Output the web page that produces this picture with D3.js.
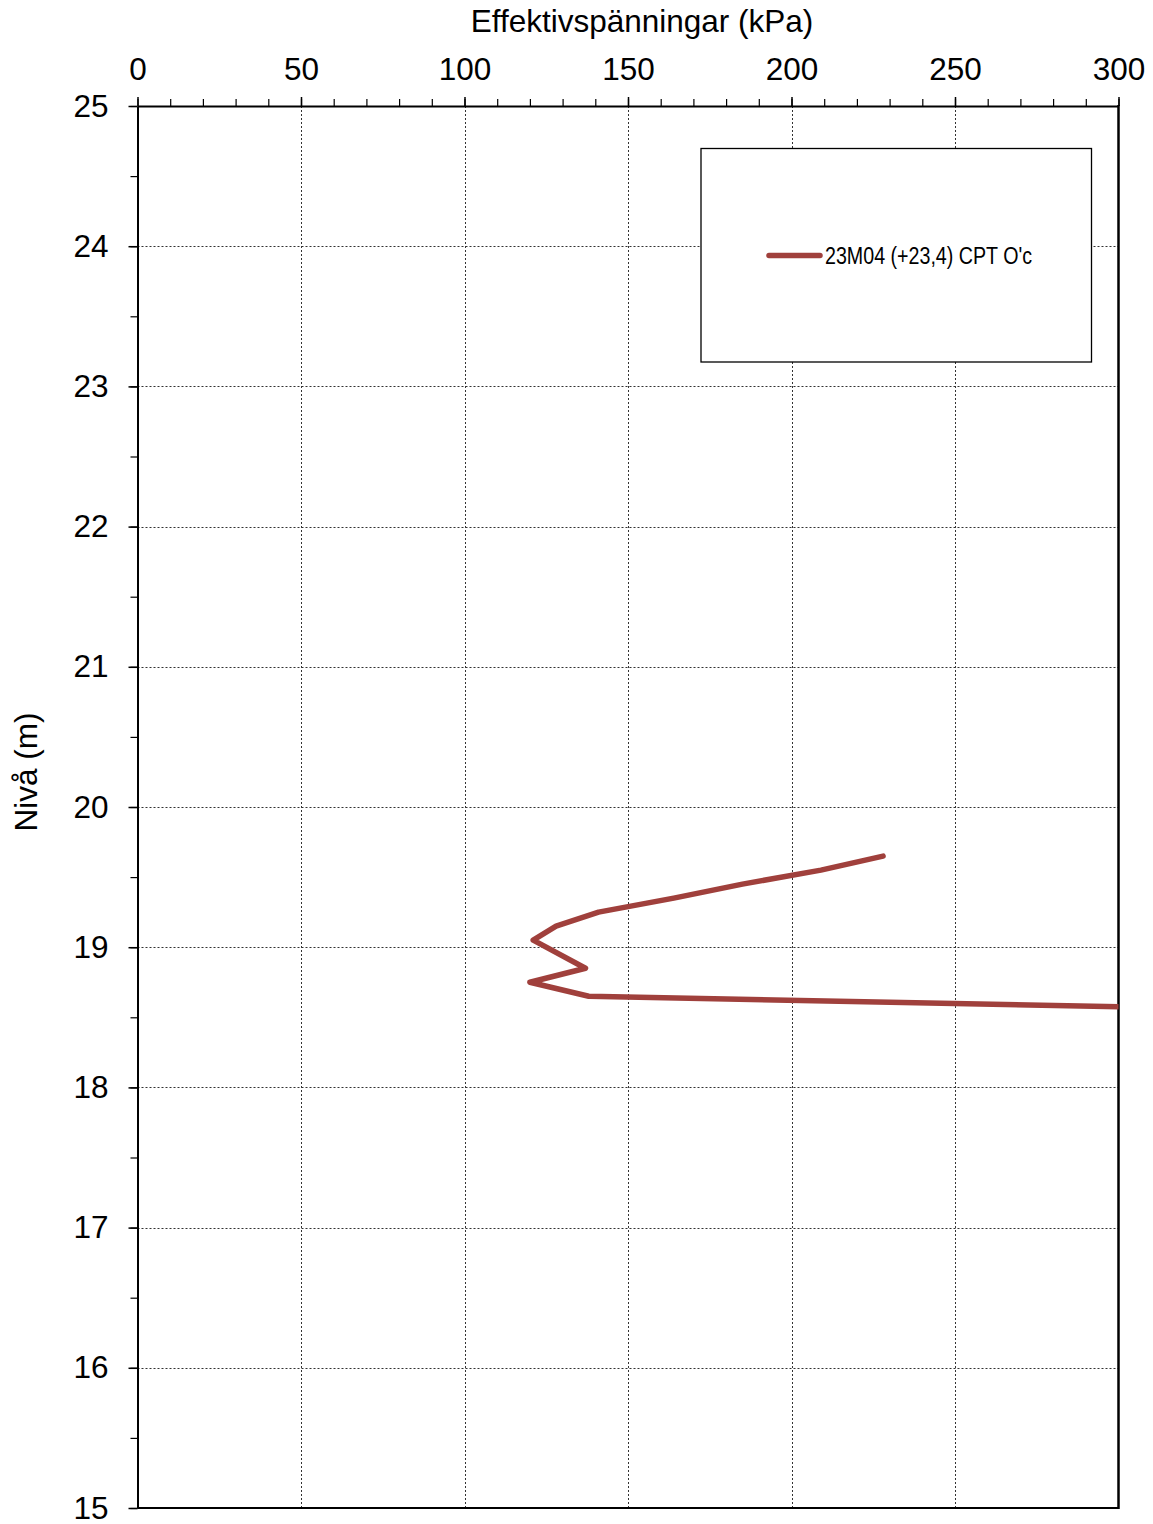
<!DOCTYPE html>
<html><head><meta charset="utf-8">
<script src="https://cdn.jsdelivr.net/npm/d3@7"></script>
<style>body{margin:0;background:#fff}svg{display:block}text{font-family:"Liberation Sans",Arial,sans-serif}</style>
</head><body>
<svg id="c" width="1153" height="1524"></svg>
<script>
const stress = [228, 209, 185, 164, 141, 128, 121, 137, 120, 138, 355];
const level  = [19.65, 19.55, 19.45, 19.35, 19.25, 19.15, 19.05, 18.85, 18.75, 18.65, 18.55];
const seriesName = "23M04 (+23,4) CPT O'c";
const xTicks = [0, 50, 100, 150, 200, 250, 300];
const yTicks = [15, 16, 17, 18, 19, 20, 21, 22, 23, 24, 25];
const xTitle = "Effektivspänningar (kPa)";
const yTitle = "Nivå (m)";

const svg = d3.select("#c");
const L = 137.5, R = 1118.5, T = 106, B = 1508;
const x = d3.scaleLinear().domain([0, 300]).range([L, R]);
const y = d3.scaleLinear().domain([15, 25]).range([B, T]);
const col = "#a0403c";
const FS = 31.5;

// grid
const g = svg.append("g");
g.selectAll(".vg").data(xTicks.filter(d => d > 0 && d < 300)).join("line")
  .attr("x1", d => Math.round(x(d)) + 0.5).attr("x2", d => Math.round(x(d)) + 0.5)
  .attr("y1", T).attr("y2", B).attr("stroke", "#333").attr("stroke-width", 1).attr("stroke-dasharray", "2,2");
g.selectAll(".hg").data(yTicks.filter(d => d > 15 && d < 25)).join("line")
  .attr("x1", L).attr("x2", R)
  .attr("y1", d => Math.round(y(d)) + 0.5).attr("y2", d => Math.round(y(d)) + 0.5)
  .attr("stroke", "#333").attr("stroke-width", 1).attr("stroke-dasharray", "2,2");

// minor ticks
const xMinor = d3.range(0, 301, 10);
svg.append("g").attr("transform", `translate(0,${T})`)
  .call(d3.axisTop(x).tickValues(xMinor).tickSize(7).tickFormat(""))
  .call(a => a.select(".domain").remove())
  .call(a => a.selectAll("line").attr("stroke", "#000").attr("stroke-width", 1.2));
const yMinor = d3.range(15, 25.01, 0.5);
svg.append("g").attr("transform", `translate(${L},0)`)
  .call(d3.axisLeft(y).tickValues(yMinor).tickSize(7).tickFormat(""))
  .call(a => a.select(".domain").remove())
  .call(a => a.selectAll("line").attr("stroke", "#000").attr("stroke-width", 1.2));

// major axes
svg.append("g").attr("transform", `translate(0,${T})`)
  .call(d3.axisTop(x).tickValues(xTicks).tickSize(9).tickSizeOuter(0).tickPadding(17).tickFormat(d3.format("d")))
  .call(a => a.select(".domain").attr("stroke-width", 2))
  .call(a => a.selectAll("line").attr("stroke-width", 1.5))
  .call(a => a.selectAll("text").attr("font-size", FS).attr("fill", "#000").style("font-family", '"Liberation Sans",Arial,sans-serif'));
svg.append("g").attr("transform", `translate(${L},0)`)
  .call(d3.axisLeft(y).tickValues(yTicks).tickSize(9).tickSizeOuter(0).tickPadding(20).tickFormat(d3.format("d")))
  .call(a => a.select(".domain").attr("stroke-width", 2))
  .call(a => a.selectAll("line").attr("stroke-width", 1.5))
  .call(a => a.selectAll("text").attr("font-size", FS).attr("fill", "#000").style("font-family", '"Liberation Sans",Arial,sans-serif'));
// right & bottom frame
svg.append("line").attr("x1", R).attr("x2", R).attr("y1", T - 1).attr("y2", B + 1).attr("stroke", "#000").attr("stroke-width", 2.5);
svg.append("line").attr("x1", L).attr("x2", R).attr("y1", B).attr("y2", B).attr("stroke", "#000").attr("stroke-width", 2);

// titles
svg.append("text").attr("x", 642).attr("y", 32).attr("text-anchor", "middle").attr("font-size", FS).text(xTitle);
svg.append("text").attr("transform", `translate(37,772) rotate(-90)`).attr("text-anchor", "middle").attr("font-size", FS).text(yTitle);

// clip + line
svg.append("clipPath").attr("id", "clip").append("rect").attr("x", L).attr("y", T).attr("width", R - L).attr("height", B - T);
const pts = stress.map((s, i) => [s, level[i]]);
svg.append("path").attr("clip-path", "url(#clip)").datum(pts)
  .attr("d", d3.line().x(d => x(d[0])).y(d => y(d[1])))
  .attr("fill", "none").attr("stroke", col).attr("stroke-width", 5.5).attr("stroke-linejoin", "round").attr("stroke-linecap", "round");

// legend
const lg = svg.append("g");
lg.append("rect").attr("x", 701).attr("y", 148.5).attr("width", 390.5).attr("height", 213.5).attr("fill", "#fff").attr("stroke", "#000").attr("stroke-width", 1.3);
lg.append("line").attr("x1", 769).attr("x2", 820).attr("y1", 255.5).attr("y2", 255.5).attr("stroke", col).attr("stroke-width", 5.5).attr("stroke-linecap", "round");
lg.append("text").attr("x", 825).attr("y", 264).attr("font-size", 23.5)
  .attr("textLength", 207).attr("lengthAdjust", "spacingAndGlyphs")
  .style("font-family", '"Liberation Sans Narrow","Arial Narrow","Liberation Sans",sans-serif').text(seriesName);
</script>
</body></html>
